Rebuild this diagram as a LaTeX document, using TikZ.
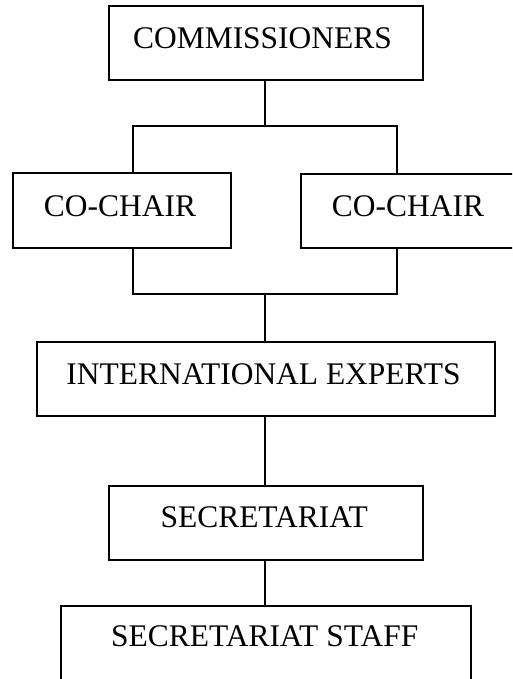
\documentclass[tikz,border=0pt]{standalone}
\usepackage{fontspec}
\setmainfont{Liberation Serif}
\begin{document}
\begin{tikzpicture}[x=0.75pt,y=-0.75pt,
  box/.style={draw=black,line width=1.4pt,rectangle,inner sep=0pt,outer sep=0pt},
  lbl/.style={inner sep=0pt,outer sep=0pt,anchor=base,font=\fontsize{23.6}{28}\selectfont},
  conn/.style={draw=black,line width=1.4pt}]
\useasboundingbox (0,0) rectangle (512,679);
\clip (0,0) rectangle (512,679);
% boxes
\node[box,minimum width=235.7pt,minimum height=55.5pt] (comm) at (266.2,42.7) {};
\node[box,minimum width=163.7pt,minimum height=55.8pt] (ccl) at (121.85,210.5) {};
\node[box,minimum width=163.5pt,minimum height=55.5pt] (ccr) at (410,210.7) {};
\node[box,minimum width=343.7pt,minimum height=55.5pt] (ie) at (265.85,379) {};
\node[box,minimum width=235.7pt,minimum height=55.7pt] (sec) at (266.2,522.85) {};
\node[box,minimum width=307.7pt,minimum height=55.7pt] (ss) at (265.85,642.85) {};
% texts
\node[lbl] (tcomm) at (262.5,48) {COMMISSIONERS};
\node[lbl] (tccl) at (120,216) {CO-CHAIR};
\node[lbl] (tccr) at (408,216) {CO-CHAIR};
\node[lbl] (tie) at (263.5,384) {INTERNATIONAL EXPERTS};
\node[lbl] (tsec) at (264.2,527.7) {SECRETARIAT};
\node[lbl] (tss) at (264.7,646.7) {SECRETARIAT STAFF};
% junction coordinates
\coordinate (jt) at (265,126);
\coordinate (jtl) at (133,126);
\coordinate (jtr) at (396.7,126);
\coordinate (jb) at (265,293.7);
\coordinate (jbl) at (133,293.7);
\coordinate (jbr) at (396.7,293.7);
% connectors
\draw[conn] (jt |- comm.south) -- (jt);
\draw[conn] (jtl |- ccl.north) -- (jtl) -- (jtr) -- (jtr |- ccr.north);
\draw[conn] (jbl |- ccl.south) -- (jbl) -- (jbr) -- (jbr |- ccr.south);
\draw[conn] (jb) -- (jb |- ie.north);
\draw[conn] (jb |- ie.south) -- (jb |- sec.north);
\draw[conn] (jb |- sec.south) -- (jb |- ss.north);
\end{tikzpicture}
\end{document}
